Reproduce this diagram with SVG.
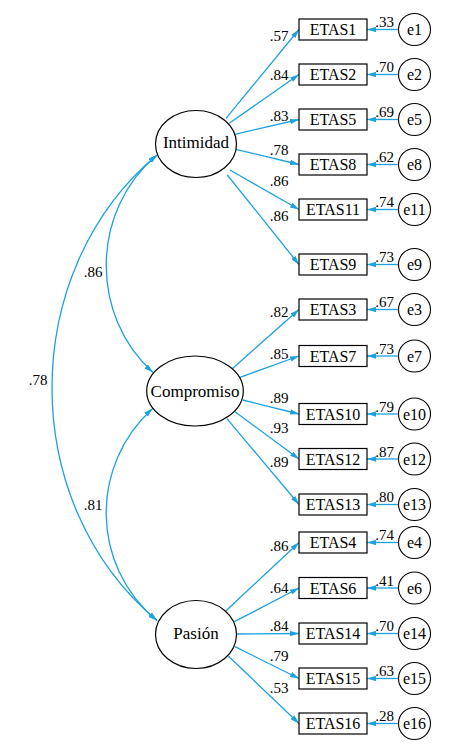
<svg xmlns="http://www.w3.org/2000/svg" width="450" height="752" viewBox="0 0 450 752" font-family="'Liberation Serif', 'DejaVu Serif', serif">
<defs>
<marker id="ah" viewBox="0 0 10 6" refX="10" refY="3" markerWidth="9" markerHeight="5.4" markerUnits="userSpaceOnUse" orient="auto-start-reverse">
<path d="M0,0 L10,3 L0,6 z" fill="#1ba1e2"/>
</marker>
<style>
.c{fill:none;stroke:#1ba1e2;stroke-width:1.3;marker-end:url(#ah)}
.d{fill:none;stroke:#1ba1e2;stroke-width:1.3;marker-end:url(#ah);marker-start:url(#ah)}
.lv{fill:#fff;stroke:#000;stroke-width:1.2}
.bx{fill:#fff;stroke:#000;stroke-width:1.2}
.er{fill:#fff;stroke:#000;stroke-width:1.1}
.t17{font-family:'Liberation Serif','DejaVu Serif',serif;font-size:17px;text-anchor:middle;fill:#000}
.t16{font-family:'Liberation Serif','DejaVu Serif',serif;font-size:16px;text-anchor:middle;fill:#000}
.n{font-family:'Liberation Serif','DejaVu Serif',serif;font-size:15px;text-anchor:middle;fill:#000}
</style>
</defs>
<g id="connectors">
<path class="d" d="M157,155 C17,272 17,503.5 157,620.5"/>
<path class="d" d="M157,155 C90,211 90,316 153,372.5"/>
<path class="d" d="M152.7,408.5 C90,465 90,565 157,620.5"/>
<line class="c" x1="226" y1="118.3" x2="299" y2="29.5"/>
<line class="c" x1="229.3" y1="123.3" x2="299" y2="74.5"/>
<line class="c" x1="235" y1="134.3" x2="299" y2="119.5"/>
<line class="c" x1="235.7" y1="149.3" x2="299" y2="164.5"/>
<line class="c" x1="230" y1="170" x2="299" y2="209.5"/>
<line class="c" x1="227.3" y1="175" x2="299" y2="264.5"/>
<line class="c" x1="231.7" y1="369.3" x2="299" y2="309.5"/>
<line class="c" x1="240" y1="377.3" x2="299" y2="356"/>
<line class="c" x1="242.7" y1="400" x2="299" y2="414"/>
<line class="c" x1="235" y1="411.7" x2="299" y2="459"/>
<line class="c" x1="226.7" y1="418.3" x2="299" y2="504.5"/>
<line class="c" x1="226" y1="610.7" x2="299" y2="542.5"/>
<line class="c" x1="234.3" y1="621.7" x2="299" y2="588"/>
<line class="c" x1="236.7" y1="634" x2="299" y2="633.5"/>
<line class="c" x1="235" y1="646.7" x2="299" y2="678.5"/>
<line class="c" x1="228.3" y1="656" x2="299" y2="723.5"/>
<line class="c" x1="398.3" y1="29.5" x2="367" y2="29.5"/>
<line class="c" x1="398.3" y1="74.5" x2="367" y2="74.5"/>
<line class="c" x1="398.3" y1="119.5" x2="367" y2="119.5"/>
<line class="c" x1="398.3" y1="164.5" x2="367" y2="164.5"/>
<line class="c" x1="398.3" y1="209.5" x2="367" y2="209.5"/>
<line class="c" x1="398.3" y1="264.5" x2="367" y2="264.5"/>
<line class="c" x1="398.3" y1="309.5" x2="367" y2="309.5"/>
<line class="c" x1="398.3" y1="356" x2="367" y2="356"/>
<line class="c" x1="398.3" y1="414" x2="367" y2="414"/>
<line class="c" x1="398.3" y1="459" x2="367" y2="459"/>
<line class="c" x1="398.3" y1="504.5" x2="367" y2="504.5"/>
<line class="c" x1="398.3" y1="542.5" x2="367" y2="542.5"/>
<line class="c" x1="398.3" y1="588" x2="367" y2="588"/>
<line class="c" x1="398.3" y1="633.5" x2="367" y2="633.5"/>
<line class="c" x1="398.3" y1="678.5" x2="367" y2="678.5"/>
<line class="c" x1="398.3" y1="723.5" x2="367" y2="723.5"/>
<text class="n" x="93" y="277">.86</text>
<text class="n" x="38" y="385">.78</text>
<text class="n" x="93" y="510">.81</text>
<text class="n" x="279" y="40.5">.57</text>
<text class="n" x="279" y="79.5">.84</text>
<text class="n" x="279" y="120.5">.83</text>
<text class="n" x="279" y="154.5">.78</text>
<text class="n" x="279" y="186">.86</text>
<text class="n" x="279" y="221">.86</text>
<text class="n" x="279" y="316.5">.82</text>
<text class="n" x="279" y="358.5">.85</text>
<text class="n" x="279" y="403">.89</text>
<text class="n" x="279" y="433">.93</text>
<text class="n" x="279" y="467">.89</text>
<text class="n" x="279" y="550.5">.86</text>
<text class="n" x="279" y="592.5">.64</text>
<text class="n" x="279" y="630.5">.84</text>
<text class="n" x="279" y="660.5">.79</text>
<text class="n" x="279" y="692.5">.53</text>
<text class="n" x="384.5" y="27">.33</text>
<text class="n" x="384.5" y="72">.70</text>
<text class="n" x="384.5" y="117">.69</text>
<text class="n" x="384.5" y="162">.62</text>
<text class="n" x="384.5" y="207">.74</text>
<text class="n" x="384.5" y="262">.73</text>
<text class="n" x="384.5" y="307">.67</text>
<text class="n" x="384.5" y="353.5">.73</text>
<text class="n" x="384.5" y="411.5">.79</text>
<text class="n" x="384.5" y="456.5">.87</text>
<text class="n" x="384.5" y="502">.80</text>
<text class="n" x="384.5" y="540">.74</text>
<text class="n" x="384.5" y="585.5">.41</text>
<text class="n" x="384.5" y="631">.70</text>
<text class="n" x="384.5" y="676">.63</text>
<text class="n" x="384.5" y="721">.28</text>
</g>
<g id="Intimidad"><ellipse class="lv" cx="196" cy="144" rx="40.5" ry="33.5"/><text class="t17" x="196" y="148">Intimidad</text></g>
<g id="Compromiso"><ellipse class="lv" cx="195" cy="391" rx="48.3" ry="35"/><text class="t17" x="195" y="396.5">Compromiso</text></g>
<g id="Pasion"><ellipse class="lv" cx="196" cy="634.5" rx="40.5" ry="34"/><text class="t17" x="196" y="639">Pasión</text></g>
<g id="ETAS1"><rect class="bx" x="299" y="19" width="68" height="21"/><text class="t16" x="333" y="35">ETAS1</text></g>
<g id="ETAS2"><rect class="bx" x="299" y="64" width="68" height="21"/><text class="t16" x="333" y="80">ETAS2</text></g>
<g id="ETAS5"><rect class="bx" x="299" y="109" width="68" height="21"/><text class="t16" x="333" y="125">ETAS5</text></g>
<g id="ETAS8"><rect class="bx" x="299" y="154" width="68" height="21"/><text class="t16" x="333" y="170">ETAS8</text></g>
<g id="ETAS11"><rect class="bx" x="299" y="199" width="68" height="21"/><text class="t16" x="333" y="215">ETAS11</text></g>
<g id="ETAS9"><rect class="bx" x="299" y="254" width="68" height="21"/><text class="t16" x="333" y="270">ETAS9</text></g>
<g id="ETAS3"><rect class="bx" x="299" y="299" width="68" height="21"/><text class="t16" x="333" y="315">ETAS3</text></g>
<g id="ETAS7"><rect class="bx" x="299" y="345.5" width="68" height="21"/><text class="t16" x="333" y="361.5">ETAS7</text></g>
<g id="ETAS10"><rect class="bx" x="299" y="403.5" width="68" height="21"/><text class="t16" x="333" y="419.5">ETAS10</text></g>
<g id="ETAS12"><rect class="bx" x="299" y="448.5" width="68" height="21"/><text class="t16" x="333" y="464.5">ETAS12</text></g>
<g id="ETAS13"><rect class="bx" x="299" y="494" width="68" height="21"/><text class="t16" x="333" y="510">ETAS13</text></g>
<g id="ETAS4"><rect class="bx" x="299" y="532" width="68" height="21"/><text class="t16" x="333" y="548">ETAS4</text></g>
<g id="ETAS6"><rect class="bx" x="299" y="577.5" width="68" height="21"/><text class="t16" x="333" y="593.5">ETAS6</text></g>
<g id="ETAS14"><rect class="bx" x="299" y="623" width="68" height="21"/><text class="t16" x="333" y="639">ETAS14</text></g>
<g id="ETAS15"><rect class="bx" x="299" y="668" width="68" height="21"/><text class="t16" x="333" y="684">ETAS15</text></g>
<g id="ETAS16"><rect class="bx" x="299" y="713" width="68" height="21"/><text class="t16" x="333" y="729">ETAS16</text></g>
<g id="e1"><circle class="er" cx="414.5" cy="29.5" r="16"/><text class="t16" x="414.5" y="35">e1</text></g>
<g id="e2"><circle class="er" cx="414.5" cy="74.5" r="16"/><text class="t16" x="414.5" y="80">e2</text></g>
<g id="e5"><circle class="er" cx="414.5" cy="119.5" r="16"/><text class="t16" x="414.5" y="125">e5</text></g>
<g id="e8"><circle class="er" cx="414.5" cy="164.5" r="16"/><text class="t16" x="414.5" y="170">e8</text></g>
<g id="e11"><circle class="er" cx="414.5" cy="209.5" r="16"/><text class="t16" x="414.5" y="215">e11</text></g>
<g id="e9"><circle class="er" cx="414.5" cy="264.5" r="16"/><text class="t16" x="414.5" y="270">e9</text></g>
<g id="e3"><circle class="er" cx="414.5" cy="309.5" r="16"/><text class="t16" x="414.5" y="315">e3</text></g>
<g id="e7"><circle class="er" cx="414.5" cy="356" r="16"/><text class="t16" x="414.5" y="361.5">e7</text></g>
<g id="e10"><circle class="er" cx="414.5" cy="414" r="16"/><text class="t16" x="414.5" y="419.5">e10</text></g>
<g id="e12"><circle class="er" cx="414.5" cy="459" r="16"/><text class="t16" x="414.5" y="464.5">e12</text></g>
<g id="e13"><circle class="er" cx="414.5" cy="504.5" r="16"/><text class="t16" x="414.5" y="510">e13</text></g>
<g id="e4"><circle class="er" cx="414.5" cy="542.5" r="16"/><text class="t16" x="414.5" y="548">e4</text></g>
<g id="e6"><circle class="er" cx="414.5" cy="588" r="16"/><text class="t16" x="414.5" y="593.5">e6</text></g>
<g id="e14"><circle class="er" cx="414.5" cy="633.5" r="16"/><text class="t16" x="414.5" y="639">e14</text></g>
<g id="e15"><circle class="er" cx="414.5" cy="678.5" r="16"/><text class="t16" x="414.5" y="684">e15</text></g>
<g id="e16"><circle class="er" cx="414.5" cy="723.5" r="16"/><text class="t16" x="414.5" y="729">e16</text></g>
</svg>
